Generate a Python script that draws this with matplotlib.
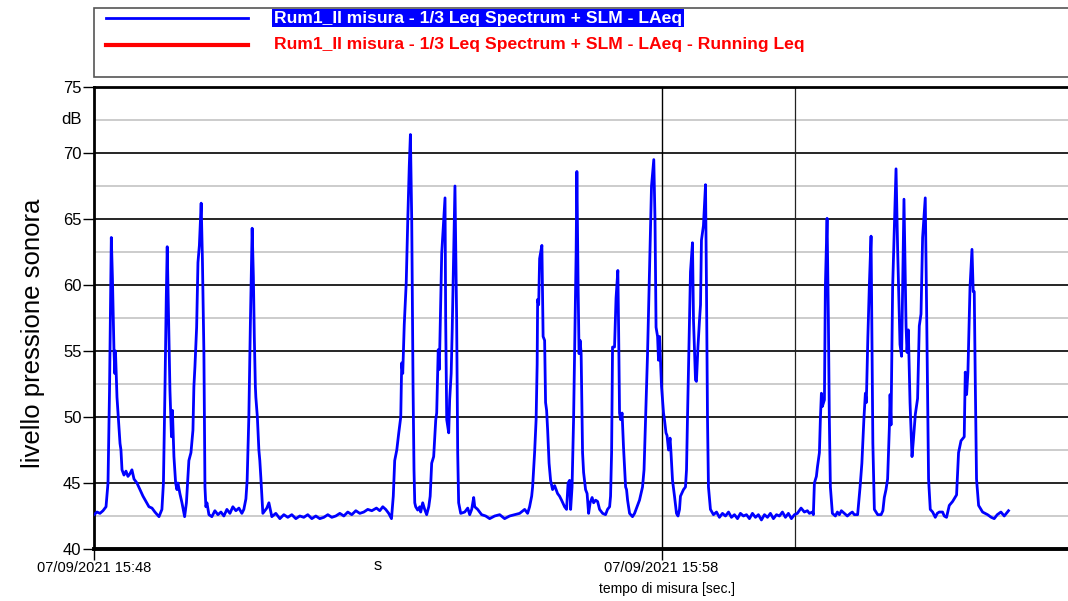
import matplotlib
matplotlib.use("Agg")
import matplotlib.pyplot as plt
from matplotlib.patches import Rectangle
from matplotlib.lines import Line2D

# time in seconds from 07/09/2021 15:48:00, level in dB(A)
seconds = [
    0, 3.2, 6.3, 9.5, 12.7, 14.8, 16.4, 18.3, 19.5, 21.1, 22.0, 22.7, 24.3, 27.5, 28.5,
    29.6, 31.7, 33.8, 35.9, 38.0, 40.1, 42.3, 45.4, 48.6, 51.8, 54.9, 58.1, 61.3, 64.4,
    68.7, 71.8, 73.4, 75.0, 76.4, 77.4, 78.7, 80.3, 81.0, 81.9, 82.9, 84.5, 86.3, 87.7,
    88.7, 90.8, 93.0, 95.8, 97.7, 99.3, 100.3, 102.5, 104.6, 105.6, 106.7, 108.5, 109.9,
    111.4, 113.3, 114.6, 116.2, 117.3, 118.3, 119.4, 121.5, 124.6, 127.8, 131.0, 134.2,
    137.3, 140.5, 143.7, 146.8, 150.0, 153.2, 156.3, 158.4, 160.6, 161.9, 163.7, 165.3,
    167.2, 168.5, 169.5, 170.6, 171.1, 172.7, 174.3, 175.3, 176.4, 178.5, 180.6, 182.7,
    184.9, 188.0, 192.2, 196.5, 200.7, 204.9, 209.1, 213.4, 217.6, 221.8, 226.0, 230.3,
    234.5, 238.7, 243.0, 247.2, 251.4, 255.6, 259.9, 264.1, 268.3, 272.5, 276.8, 281.0,
    285.2, 289.4, 293.7, 298.6, 302.1, 305.3, 308.4, 311.6, 314.5, 316.4, 317.9, 320.1,
    322.2, 324.3, 325.3, 326.4, 328.0, 330.1, 331.7, 333.3, 334.5, 335.9, 337.3, 338.3,
    339.1, 340.1, 342.2, 344.4, 345.4, 347.5, 349.6, 351.7, 353.9, 355.4, 357.0, 359.1,
    361.3, 362.3, 363.9, 365.0, 365.5, 367.6, 371.1, 371.8, 372.9, 375.0, 376.0, 377.6,
    378.7, 380.3, 381.6, 383.4, 384.5, 385.5, 387.7, 391.9, 395.1, 397.2, 399.3, 401.4,
    402.5, 405.6, 409.8, 414.1, 418.3, 423.6, 428.9, 434.1, 439.4, 444.7, 450.0, 455.3,
    458.4, 460.5, 462.7, 463.7, 465.8, 467.4, 468.5, 469.0, 470.1, 471.1, 473.5, 474.8,
    476.4, 477.4, 478.5, 479.6, 481.1, 482.7, 484.8, 487.0, 488.0, 490.1, 492.2, 494.3,
    497.5, 499.6, 501.2, 502.8, 503.9, 505.4, 507.0, 508.6, 509.7, 510.5, 511.8, 512.8,
    513.9, 515.0, 516.5, 517.6, 519.7, 521.3, 522.9, 524.5, 526.6, 528.2, 530.3, 532.4,
    534.5, 537.7, 540.8, 542.9, 545.1, 546.1, 547.2, 548.2, 550.3, 551.9, 553.8, 554.6,
    555.6, 556.7, 558.3, 559.8, 562.0, 563.0, 564.1, 566.2, 569.3, 571.5, 573.6, 576.7,
    579.9, 581.5, 583.1, 585.2, 587.3, 589.4, 591.8, 593.1, 594.2, 595.8, 596.8, 597.9,
    598.9, 600.0, 602.1, 603.1, 604.7, 605.8, 607.4, 609.0, 610.0, 611.6, 613.7, 615.8,
    617.4, 619.0, 620.0, 623.2, 625.3, 626.4, 627.4, 629.6, 630.6, 632.7, 633.8, 635.9,
    636.9, 638.5, 640.1, 641.2, 642.2, 644.3, 646.5, 647.5, 648.6, 649.6, 651.7, 654.9,
    658.1, 661.2, 664.4, 667.6, 670.8, 673.9, 677.1, 680.3, 683.4, 686.6, 689.8, 692.9,
    696.1, 699.3, 702.4, 705.6, 708.8, 712.0, 715.1, 718.3, 721.5, 724.6, 727.8, 731.0,
    734.1, 737.3, 740.5, 743.6, 747.5, 751.0, 754.2, 756.3, 759.5, 760.5, 761.6, 763.7,
    764.8, 766.9, 767.9, 769.0, 770.0, 772.2, 773.2, 775.0, 776.4, 777.4, 778.5, 780.6,
    783.8, 785.9, 788.0, 790.1, 793.3, 796.4, 799.6, 801.7, 803.8, 807.3, 809.9, 811.8,
    813.9, 815.5, 816.5, 818.1, 819.7, 821.5, 822.3, 823.4, 825.0, 828.5, 832.1, 834.0,
    835.5, 837.3, 839.0, 840.8, 841.6, 842.6, 844.3, 846.1, 847.9, 849.6, 852.1, 853.8,
    856.3, 858.5, 859.5, 860.9, 862.7, 864.8, 866.2, 868.3, 870.7, 872.5, 874.3, 876.0,
    878.8, 880.2, 882.3, 884.1, 886.6, 889.4, 891.5, 893.6, 897.1, 898.9, 901.3, 904.2,
    907.7, 911.9, 914.0, 916.6, 920.0, 921.1, 922.5, 923.9, 926.1, 928.2, 929.5, 930.6,
    931.7, 933.0, 935.2, 939.4, 944.7, 948.6, 951.7, 954.9, 958.8, 962.3, 966.8,
]

laeq = [
    42.6, 42.8, 42.7, 42.9, 43.2, 45.0, 52.0, 63.6, 60.5, 55.1, 53.3, 55.0, 51.5, 48.0, 47.5,
    46.0, 45.6, 45.9, 45.5, 45.7, 46.0, 45.3, 45.0, 44.5, 44.0, 43.6, 43.2, 43.1, 42.8,
    42.45, 43.0, 45.0, 52.0, 59.0, 62.9, 58.0, 52.0, 50.5, 48.5, 50.5, 47.0, 45.0, 44.5,
    45.0, 44.2, 43.5, 42.45, 43.5, 45.5, 46.7, 47.3, 49.0, 52.3, 53.8, 56.8, 61.7,
    63.0, 66.2, 62.0, 54.8, 44.7, 43.2, 43.5, 42.6, 42.45, 42.9, 42.6, 42.8,
    42.5, 43.0, 42.7, 43.2, 42.9, 43.1, 42.7, 43.0, 43.8, 45.2, 50.0, 57.0,
    64.3, 60.6, 56.0, 52.3, 51.5, 50.0, 47.5, 46.7, 45.4, 42.7, 42.9, 43.1,
    43.5, 42.45, 42.7, 42.3, 42.6, 42.4, 42.6, 42.3, 42.5, 42.4, 42.6, 42.3,
    42.5, 42.3, 42.4, 42.6, 42.4, 42.5, 42.7, 42.5, 42.8, 42.6, 42.9, 42.7,
    42.8, 43.0, 42.9, 43.1, 42.9, 43.2, 43.0, 42.7, 42.3, 44.0, 46.7, 47.5,
    48.8, 50.0, 54.1, 53.3, 57.0, 60.2, 64.9, 69.0, 71.4, 64.9, 52.3, 46.0,
    43.5, 43.2, 42.95, 43.2, 42.8, 43.5, 43.0, 42.6, 43.2, 44.0, 46.5, 47.0,
    49.8, 50.3, 55.1, 53.6, 55.1, 62.4, 66.6, 57.3, 49.8, 48.8, 51.3, 53.3,
    56.6, 62.4, 67.5, 57.3, 47.3, 43.5, 42.7, 42.8, 43.1, 42.6, 43.0, 43.9,
    43.2, 43.0, 42.6, 42.5, 42.3, 42.5, 42.6, 42.3, 42.5, 42.6, 42.7, 43.0,
    42.7, 43.2, 44.0, 44.7, 47.3, 49.8, 54.0, 58.9, 58.5, 62.0, 63.0, 56.1,
    55.8, 51.1, 50.5, 49.0, 46.5, 45.2, 44.5, 44.8, 44.6, 44.2, 44.0, 43.7,
    43.2, 43.0, 45.0, 45.2, 43.0, 44.7, 49.8, 57.3, 62.4, 68.6, 59.9, 54.8,
    55.8, 54.8, 47.3, 45.8, 44.5, 44.2, 42.7, 43.5, 43.9, 43.5, 43.7, 43.6,
    43.0, 42.7, 42.6, 43.0, 43.2, 44.0, 47.3, 55.3, 55.3, 59.0, 61.1, 56.8,
    50.3, 49.8, 50.3, 47.7, 44.7, 44.5, 43.7, 42.7, 42.45, 42.7, 43.1, 43.7,
    44.7, 46.0, 49.8, 54.8, 61.1, 67.5, 69.5, 64.9, 56.8, 56.1, 54.3, 56.1,
    54.3, 52.3, 50.3, 49.8, 48.8, 48.6, 47.5, 48.4, 47.3, 45.2, 44.0, 42.7,
    42.5, 43.0, 44.0, 44.5, 44.7, 46.0, 49.8, 57.3, 61.0, 63.2, 57.3, 52.8,
    52.7, 55.3, 57.3, 58.5, 63.4, 64.5, 67.6, 59.9, 49.8, 44.7, 43.0, 42.6,
    42.8, 42.4, 42.7, 42.5, 42.8, 42.4, 42.6, 42.3, 42.7, 42.5, 42.6, 42.3,
    42.7, 42.4, 42.6, 42.2, 42.6, 42.4, 42.7, 42.3, 42.6, 42.5, 42.8, 42.4,
    42.7, 42.3, 42.6, 42.7, 43.1, 42.8, 42.9, 42.7, 42.8, 42.6, 45.0, 45.5,
    46.2, 47.3, 49.8, 51.8, 50.8, 51.3, 59.9, 65.05, 57.3, 49.8, 44.7, 42.7,
    42.5, 42.8, 42.6, 42.9, 42.7, 42.5, 42.7, 42.8, 42.6, 42.6, 44.7, 46.5,
    49.8, 51.8, 51.1, 56.0, 60.0, 63.7, 57.0, 48.0, 43.0, 42.6, 42.6, 42.9,
    43.9, 44.5, 45.3, 49.1, 51.7, 49.4, 59.8, 64.2, 68.8, 62.7, 55.5, 54.6,
    66.5, 56.9, 54.9, 56.6, 51.1, 47.0, 48.2, 50.2, 51.4, 56.9, 57.8, 63.6,
    66.6, 58.4, 45.3, 43.0, 42.8, 42.4, 42.7, 42.8, 42.8, 42.5, 42.4, 43.3,
    43.6, 44.1, 47.3, 48.2, 48.5, 53.4, 51.7, 53.4, 59.8, 62.7, 59.5, 59.5,
    52.6, 45.3, 43.3, 42.8, 42.6, 42.4, 42.3, 42.6, 42.8, 42.5, 42.9,
]

time_ticks = [0, 600]
time_labels = ["07/09/2021 15:48", "07/09/2021 15:58"]
cursor_s = 741.5
series_names = [
    "Rum1_II misura - 1/3 Leq Spectrum + SLM - LAeq",
    "Rum1_II misura - 1/3 Leq Spectrum + SLM - LAeq - Running Leq",
]

narrow = ["Liberation Sans Narrow", "Liberation Sans", "DejaVu Sans"]
plt.rcParams["font.family"] = ["Liberation Sans", "DejaVu Sans"]

W, H = 1068, 601
fig = plt.figure(figsize=(W / 100, H / 100), dpi=100)
ax_w = (W - 94) / W + 0.01
ax = fig.add_axes([94 / W, 52 / H, ax_w, 462 / H])

# grid
for v in [42.5, 47.5, 52.5, 57.5, 62.5, 67.5, 72.5]:
    ax.axhline(v, color="#c8c8c8", lw=1.3, zorder=1)
for v in [45, 50, 55, 60, 65, 70]:
    ax.axhline(v, color="black", lw=1.2, zorder=1)
ax.axvline(time_ticks[1], color="black", lw=1.0, zorder=1)
ax.axvline(cursor_s, color="#222222", lw=0.9, zorder=1)

ax.plot(seconds, laeq, color="#0000ff", lw=2.0, zorder=3)

ax.set_xlim(0, 1029 + 12)
ax.set_ylim(40, 75)
ax.set_yticks([40, 45, 50, 55, 60, 65, 70, 75])
ax.set_yticklabels(["40", "45", "50", "55", "60", "65", "70", "75"],
                   family=narrow, fontsize=12)
ax.set_xticks(time_ticks)
ax.set_xticklabels(time_labels, family=narrow, fontsize=10.5)
ax.tick_params(axis="y", direction="out", length=8, width=1, pad=1)
ax.tick_params(axis="x", direction="out", length=8, width=1, pad=1)

ax.text(-0.012, (72.5 - 40) / 35, "dB", transform=ax.transAxes, ha="right",
        va="center", family=narrow, fontsize=12)
ax.text(300, -0.02, "s", transform=ax.get_xaxis_transform(), ha="center",
        va="top", family=narrow, fontsize=12)
ax.text(600 + 6, -0.072, "tempo di misura [sec.]", transform=ax.get_xaxis_transform(),
        ha="center", va="top", family=narrow, fontsize=10)
ax.set_ylabel("livello pressione sonora", fontsize=18.5)
ax.yaxis.set_label_coords(-49 / (ax_w * W), (549 - 333) / 462)

for side in ["left", "top"]:
    ax.spines[side].set_linewidth(2)
ax.spines["bottom"].set_linewidth(2.8)
ax.spines["right"].set_visible(False)

# legend panel
fig.add_artist(Rectangle((94 / W, (H - 77) / H), 1.0, 69 / H, transform=fig.transFigure,
                         facecolor="white", edgecolor="#555555", lw=1.2))
fig.add_artist(Line2D([106 / W, 248 / W], [(H - 18) / H] * 2, color="#0000ff", lw=2.0))
fig.add_artist(Line2D([106 / W, 248 / W], [(H - 45) / H] * 2, color="#ff0000", lw=3.0))
fig.text(274 / W, (H - 18) / H, series_names[0], color="white", fontsize=12.6,
         fontweight="bold", family=narrow, va="center", ha="left",
         bbox=dict(facecolor="#0000ff", edgecolor="none", pad=1.2))
fig.text(274 / W, (H - 45) / H, series_names[1], color="#ff0000", fontsize=12.6,
         fontweight="bold", family=narrow, va="center", ha="left")

fig.savefig("out.png", dpi=100)
